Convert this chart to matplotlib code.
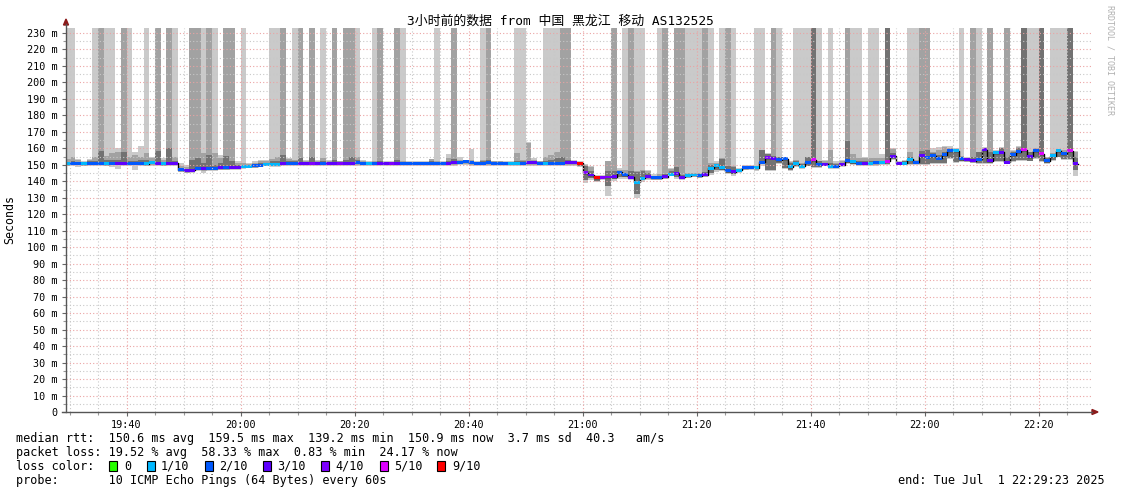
import matplotlib
matplotlib.use('Agg')
import matplotlib.pyplot as plt
from matplotlib.lines import Line2D
from matplotlib.patches import Rectangle, Polygon
import numpy as np

# ---------------- data (one value per minute, first sample = 19:29) ----------------
median = [150.6, 150.9, 150.9, 150.7, 150.9, 151.0, 151.0, 150.7, 151.0, 150.8,
          150.9, 151.0, 151.0, 151.0, 150.7, 151.2, 150.8, 150.7, 150.9, 150.9,
          147.0, 146.5, 146.6, 147.8, 147.6, 148.0, 148.0, 148.3, 148.2, 148.5,
          148.6, 149.0, 149.2, 149.5, 149.8, 150.3, 150.0, 150.0, 150.9, 150.9,
          151.0, 150.9, 150.9, 150.9, 150.9, 151.0, 151.0, 151.0, 151.0, 151.0,
          151.0, 151.2, 151.0, 150.8, 151.0, 151.0, 151.0, 151.0, 151.0, 150.9,
          150.9, 150.9, 150.9, 150.9, 150.9, 151.0, 151.0, 151.0, 151.2, 151.6,
          151.8, 151.2, 151.0, 151.0, 151.2, 151.0, 151.0, 151.0, 150.9, 150.9,
          151.0, 151.2, 151.2, 151.0, 150.9, 151.0, 151.0, 151.0, 151.2, 151.2,
          150.8, 145.3, 143.8, 142.2, 142.4, 142.6, 142.8, 145.5, 144.0, 142.4,
          139.4, 141.8, 142.8, 142.2, 142.2, 142.8, 144.4, 145.0, 142.4, 143.3,
          143.8, 143.3, 144.0, 147.8, 149.4, 148.3, 146.3, 145.7, 146.7, 148.3,
          148.5, 148.3, 151.5, 154.4, 154.0, 153.2, 153.8, 148.7, 150.5, 149.0,
          151.5, 153.2, 150.3, 150.3, 149.0, 149.0, 150.0, 152.5, 151.9, 150.8,
          150.8, 150.8, 151.2, 151.5, 152.0, 155.3, 150.8, 150.8, 153.3, 151.5,
          155.5, 154.7, 155.5, 153.9, 156.0, 158.6, 158.4, 153.6, 153.0, 152.5,
          153.3, 159.0, 152.4, 157.2, 157.6, 151.5, 156.0, 158.0, 159.0, 155.0,
          158.4, 156.8, 152.4, 155.5, 158.4, 156.8, 158.4, 150.6]

loss = [1, 2, 2, 1, 2, 2, 2, 1, 2, 3,
        3, 2, 2, 2, 1, 1, 3, 1, 3, 3,
        2, 3, 3, 2, 3, 2, 2, 3, 2, 3,
        3, 1, 1, 2, 2, 1, 1, 1, 3, 2,
        2, 3, 3, 4, 3, 2, 3, 3, 4, 3,
        3, 2, 2, 1, 2, 3, 3, 4, 3, 2,
        2, 2, 2, 2, 2, 2, 2, 3, 3, 2,
        2, 2, 2, 2, 2, 2, 2, 2, 1, 1,
        2, 3, 3, 2, 1, 2, 2, 2, 3, 3,
        9, 4, 3, 9, 4, 4, 3, 2, 2, 3,
        1, 1, 3, 2, 2, 3, 1, 3, 3, 1,
        1, 2, 3, 1, 1, 1, 2, 3, 1, 2,
        2, 1, 2, 4, 3, 2, 2, 1, 1, 1,
        2, 5, 2, 3, 1, 2, 3, 2, 1, 2,
        3, 1, 2, 1, 5, 3, 3, 1, 1, 2,
        3, 2, 2, 2, 2, 2, 1, 2, 3, 3,
        2, 3, 3, 1, 3, 3, 2, 2, 5, 3,
        2, 5, 2, 1, 1, 2, 5, 3]

# smoke: outer (light) band top/bottom, middle band top, inner (dark) band top/bottom
smoke_light_hi = [240, 240, 153.5, 152.5, 153.5, 240, 240, 240, 240, 160,
                  240, 240, 158, 161.5, 240, 155, 240, 154, 240, 240,
                  151, 150, 240, 240, 240, 240, 240, 156, 240, 240,
                  152, 240, 151, 152, 153, 153, 240, 240, 240, 154,
                  240, 240, 153, 240, 153, 240, 153, 240, 152.5, 240,
                  240, 240, 153, 152, 240, 240, 152, 152, 240, 240,
                  152, 152, 152, 152, 153.5, 240, 152, 156.5, 240, 155,
                  153, 159.5, 152, 240, 240, 152.5, 152.5, 152, 152, 240,
                  240, 164, 154, 152.5, 240, 240, 240, 240, 240, 153,
                  152, 150.5, 149.5, 144, 144, 152.5, 240, 148, 240, 240,
                  240, 240, 147, 144.5, 240, 240, 148, 240, 240, 240,
                  240, 240, 240, 240, 152, 240, 240, 240, 148, 150,
                  150, 240, 240, 157, 240, 240, 155, 152, 240, 240,
                  240, 240, 240, 153, 240, 152, 153, 240, 240, 240,
                  154.5, 240, 240, 156.5, 240, 160, 152, 153, 240, 240,
                  240, 240, 160, 161, 161.5, 161.5, 160, 240, 154.5, 240,
                  240, 160.5, 240, 159, 160.5, 240, 159, 161.5, 240, 240,
                  240, 240, 155, 240, 240, 240, 240, 158.5]

smoke_mid_hi = [153.5, 154.5, 153, 151.5, 153, 155, 240, 155.5, 157, 158,
                240, 155, 156, 155, 157, 154, 240, 153, 240, 155,
                149, 148.5, 240, 240, 157, 240, 157, 154, 240, 240,
                151, 151, 150.5, 151, 152, 152, 153.5, 155, 240, 153.5,
                153, 240, 152, 240, 152, 154, 152, 240, 152, 240,
                240, 154.5, 152, 151.5, 152, 240, 151.5, 151.5, 240, 152,
                151.5, 151.5, 151.5, 151.5, 153.5, 152, 151.5, 154, 240, 153,
                153, 153, 151.5, 153, 240, 152, 152, 151.5, 151.5, 157,
                153, 163.5, 153, 152, 155, 156, 158, 240, 240, 152.5,
                151.5, 150, 148.5, 143.5, 143.5, 152, 240, 147, 147, 240,
                146, 147, 146, 143.5, 144.5, 240, 147.5, 240, 240, 145,
                145, 145, 240, 151, 151, 154, 240, 149, 147.5, 149.5,
                149.5, 149.5, 159, 156.5, 240, 155, 154.5, 151.5, 153, 151,
                155, 240, 152.5, 152, 159, 151, 152, 240, 156.5, 154,
                154, 154, 154, 154, 240, 159.5, 151.5, 152.5, 157.5, 153,
                240, 240, 158, 159, 161, 160, 159.5, 155.5, 154, 240,
                158, 160, 240, 158.5, 160, 240, 158.5, 161, 240, 158,
                160, 240, 154.5, 157, 159.5, 159, 240, 158]

smoke_dark_hi = [151.5, 152, 151.5, 151, 152, 152, 158.5, 153, 153, 153,
                 158, 152, 152, 153, 153, 152.5, 158.5, 151.5, 160, 152,
                 148, 147.5, 153, 154, 151, 156, 150, 151, 155.5, 152,
                 150, 150, 150, 150.5, 151, 151, 152, 152, 156, 152,
                 152, 154, 151.5, 155, 151.5, 152, 151.5, 153, 151.5, 153,
                 155, 153, 151.5, 151, 151.5, 152, 151, 151, 153, 151.5,
                 151, 151, 151, 151, 152, 151.5, 151, 152, 153.5, 152,
                 152.5, 152.5, 151, 152, 153, 151.5, 151.5, 151, 151, 152,
                 152, 152.5, 152, 151.5, 152, 153, 154, 155, 153, 152,
                 151, 149.5, 146, 143, 143, 146, 146.5, 146.5, 145, 146,
                 145.5, 146.5, 145, 143, 143.5, 144.5, 146, 148.5, 144, 144.5,
                 144.5, 144.5, 145.5, 150, 150.5, 153.5, 149, 148.5, 147, 149,
                 149, 149, 159, 156.5, 155.5, 154.5, 154.5, 151, 152, 150.5,
                 154.5, 240, 152, 151, 151, 150.5, 151, 164.5, 153, 152,
                 152, 152, 152, 152.5, 240, 157, 151.5, 152, 155, 152.5,
                 158.5, 159, 157, 156, 158, 159.5, 159, 154.5, 153.5, 155,
                 157.5, 160, 157.5, 158, 160, 155, 158, 160, 240, 157.5,
                 159.5, 240, 154, 156.5, 159, 158, 240, 155]

smoke_dark_lo = [150, 150.3, 150.3, 150.2, 150.3, 150.4, 150.4, 150.2, 150.4, 150.2,
                 150.3, 150.4, 150.4, 150.4, 150, 150.6, 150.2, 150, 150.3, 150.3,
                 146.5, 146, 146, 147.3, 147, 147.5, 147.5, 147.8, 147.7, 148,
                 148, 148.5, 148.7, 149, 149.3, 149.8, 149.5, 149.5, 150.3, 150.3,
                 150.4, 150.3, 150.3, 150.3, 150.3, 150.4, 150.4, 150.4, 150.4, 150.4,
                 150.4, 150.6, 150.4, 150.2, 150.4, 150.4, 150.4, 150.4, 150.4, 150.3,
                 150.3, 150.3, 150.3, 150.3, 150.3, 150.4, 150.4, 150.4, 150.6, 151,
                 151.2, 150.6, 150.4, 150.4, 150.6, 150.4, 150.4, 150.4, 150.3, 150.3,
                 150.4, 150.6, 150.6, 150.4, 150.3, 150.4, 150.4, 150.4, 150.6, 150.6,
                 149.5, 141, 142, 140, 141.5, 137, 141.5, 142.5, 142.5, 141.5,
                 132.5, 140.5, 142, 141.5, 141.5, 142, 143.5, 142.4, 141.8, 142.5,
                 143, 142.5, 143.5, 145, 147, 146.8, 145, 144.2, 145.5, 147.5,
                 147.8, 147.5, 150.5, 147, 147, 151, 148, 147, 149, 148,
                 149.5, 148.5, 148.5, 149.5, 148, 148, 149, 151, 150.5, 150,
                 150, 150, 150.3, 150.5, 150.5, 153.5, 150.3, 150.3, 150.5, 150.5,
                 150.5, 150.5, 151, 151, 151, 154, 151.5, 152, 152, 151.5,
                 151, 151, 151, 152, 152, 151, 152, 153, 153, 152.5,
                 154, 152, 151, 153, 155, 153.5, 153.5, 147]

smoke_light_lo = [149, 149.5, 148.5, 149.5, 149.5, 149.5, 149.5, 149.5, 148.5, 147.5,
                  149.5, 149.5, 147, 149.5, 149.5, 149.5, 149.5, 149.5, 149.5, 149.5,
                  145.5, 145, 145, 146.5, 145, 146.5, 146.5, 147, 147, 147,
                  147, 147.5, 148, 148, 148.5, 149, 149, 149, 149.5, 149.5,
                  149.5, 149.5, 149.5, 149.5, 149.5, 149.5, 149.5, 149.5, 149.5, 149.5,
                  149.5, 149.5, 149.5, 149.5, 149.5, 149.5, 149.5, 149.5, 149.5, 149.5,
                  149.5, 149.5, 149.5, 149.5, 149.5, 149.5, 149.5, 149.5, 149.5, 150,
                  150, 149.5, 149.5, 149.5, 149.5, 149.5, 149.5, 149.5, 149.5, 149.5,
                  149.5, 149.5, 149.5, 149.5, 149.5, 149.5, 149.5, 149.5, 149.5, 149.5,
                  148.5, 139, 140.5, 139.5, 140.5, 131, 140, 141.5, 141.5, 140.5,
                  130, 139.5, 140.5, 141, 141, 141.5, 143, 141.5, 141, 142,
                  142.5, 142, 142.5, 144, 145.5, 146, 144.5, 143.5, 145, 147,
                  147, 146.5, 149.5, 146.5, 146.5, 150.5, 147.5, 146, 148.5, 147.5,
                  149, 148, 148, 149, 147.5, 147.5, 149, 150.5, 150, 149.5,
                  149.5, 149.5, 149.5, 150, 150, 153, 150, 150, 150, 150,
                  150, 150, 150.5, 150.5, 150.5, 153.5, 151, 151.5, 151.5, 151,
                  150.5, 150.5, 150.5, 151.5, 151.5, 150.5, 151.5, 152.5, 152.5, 152,
                  153.5, 151.5, 150.5, 152.5, 154.5, 153, 153, 143]

loss_labels = ['0', '1/10', '2/10', '3/10', '4/10', '5/10', '9/10']
loss_levels = [0, 1, 2, 3, 4, 5, 9]
loss_colors = ['#26ff00', '#00b8ff', '#0059ff', '#5e00ff', '#7e00ff', '#dd00ff', '#ff0000']

ytick_values = list(range(0, 231, 10))
xtick_minutes = [40, 60, 80, 100, 120, 140, 160, 180, 200]
xtick_labels = ['19:40', '20:00', '20:20', '20:40', '21:00', '21:20', '21:40', '22:00', '22:20']

title = '3小时前的数据 from 中国 黑龙江 移动 AS132525'
legend_rtt = 'median rtt:  150.6 ms avg  159.5 ms max  139.2 ms min  150.9 ms now  3.7 ms sd  40.3   am/s'
legend_loss = 'packet loss: 19.52 % avg  58.33 % max  0.83 % min  24.17 % now'
legend_probe = 'probe:       10 ICMP Echo Pings (64 Bytes) every 60s'
legend_end = 'end: Tue Jul  1 22:29:23 2025'

# ---------------- figure ----------------
W, H = 1121, 494
fig = plt.figure(figsize=(W / 100, H / 100), dpi=100)
fig.patch.set_facecolor('white')
L, R, T, B = 66, 1092, 28, 412
ax = fig.add_axes([L / W, 1 - B / H, (R - L) / W, (B - T) / H])
ax.set_facecolor('white')

t_start = 29 + 23 / 60  # minutes after 19:00
ax.set_xlim(t_start, t_start + 180)
ax.set_ylim(0, 233)

med = np.array(median)
n = len(med)
xs = 29 + np.arange(n)


def band(lo, hi, color, z):
    lo = np.array(lo, float)
    hi = np.array(hi, float)
    ax.bar(xs, hi - lo, bottom=lo, width=1.0, align='edge', color=color,
           linewidth=0, zorder=z)


band(smoke_light_lo, smoke_light_hi, '#cacaca', 1)
band(smoke_dark_lo, smoke_mid_hi, '#a2a2a2', 2)
band(smoke_dark_lo, smoke_dark_hi, '#727272', 3)

# median: black step line + loss-colored band
sx = np.append(xs, xs[-1] + 1)
sy = np.append(med, med[-1])
ax.step(sx, sy, where='post', color='black', lw=1.0, zorder=4)
cmap = dict(zip(loss_levels, loss_colors))
cols = [cmap[9] if l >= 6 else cmap[l] for l in loss]
sw = 0.9
ax.bar(xs, 2 * sw, bottom=med - sw, width=1.0, align='edge', color=cols,
       linewidth=0, zorder=5)

# grid on top (rrdtool style)
dot = (0, (1, 2))
for v in range(5, 233, 5):
    if v % 10 == 0:
        ax.axhline(v, color='#eba3a3', lw=0.8, ls=dot, zorder=6)
    else:
        ax.axhline(v, color='#c8c8c8', lw=0.8, ls=dot, zorder=6)
for m in range(30, 210, 5):
    if m % 20 == 0:
        ax.axvline(m, color='#eba3a3', lw=0.8, ls=dot, zorder=6)
    else:
        ax.axvline(m, color='#c8c8c8', lw=0.8, ls=dot, zorder=6)

for s in ax.spines.values():
    s.set_visible(False)

mono = 'DejaVu Sans Mono'
ax.set_yticks(ytick_values)
ax.set_yticklabels(['0' if v == 0 else f'{v} m' for v in ytick_values],
                   family=mono, fontsize=7.3)
ax.set_yticks(list(range(5, 233, 10)), minor=True)
ax.set_xticks(xtick_minutes)
ax.set_xticklabels(xtick_labels, family=mono, fontsize=7.3)
ax.set_xticks(list(range(30, 210, 5)), minor=True)
ax.tick_params(axis='both', which='major', length=3, width=0.8, color='#666666',
               direction='out', pad=3)
ax.tick_params(axis='both', which='minor', length=2, width=0.8, color='#999999',
               direction='out')


def P(px, py):
    return px / W, 1 - py / H


# axes with arrows
fig.add_artist(Line2D([L / W, L / W], [1 - B / H, 1 - 24 / H], color='#555555', lw=1,
                      transform=fig.transFigure))
fig.add_artist(Line2D([62 / W, 1092 / W], [1 - B / H, 1 - B / H], color='#555555', lw=1,
                      transform=fig.transFigure))
fig.add_artist(Polygon([P(63.5, 25), P(68.5, 25), P(66, 19)], closed=True,
                       color='#8b1a1a', transform=fig.transFigure))
fig.add_artist(Polygon([P(1092, 409.5), P(1092, 414.5), P(1098, 412)], closed=True,
                       color='#8b1a1a', transform=fig.transFigure))

# texts
fig.text(0.5, 1 - 21 / H, title, ha='center', va='center', fontsize=9.3,
         family=[mono, 'Noto Sans CJK SC'], color='black')
fig.text(10 / W, 1 - 219 / H, 'Seconds', rotation=90, ha='center', va='center',
         family=mono, fontsize=8.4)
fig.text(1110 / W, 1 - 60 / H, 'RRDTOOL / TOBI OETIKER', rotation=270, ha='center',
         va='center', family=mono, fontsize=6, color='#b0b0b0')

fs = 8.5
fig.text(16 / W, 1 - 438 / H, legend_rtt, ha='left', va='center', family=mono, fontsize=fs)
fig.text(16 / W, 1 - 452 / H, legend_loss, ha='left', va='center', family=mono, fontsize=fs)
fig.text(16 / W, 1 - 466 / H, 'loss color:', ha='left', va='center', family=mono, fontsize=fs)
box_x = [109, 147, 205, 263, 321, 380, 437]
lab_x = [124, 160.5, 219, 277, 335, 394, 452]
for bx, lx, lab, c in zip(box_x, lab_x, loss_labels, loss_colors):
    fig.add_artist(Rectangle(P(bx, 471), 8 / W, 10 / H, facecolor=c, edgecolor='black',
                             lw=0.8, transform=fig.transFigure))
    fig.text(lx / W, 1 - 466 / H, lab, ha='left', va='center', family=mono, fontsize=fs)
fig.text(16 / W, 1 - 480 / H, legend_probe, ha='left', va='center', family=mono, fontsize=fs)
fig.text(1105 / W, 1 - 480 / H, legend_end, ha='right', va='center', family=mono, fontsize=fs)

fig.savefig('out.png', dpi=100, facecolor='white')
